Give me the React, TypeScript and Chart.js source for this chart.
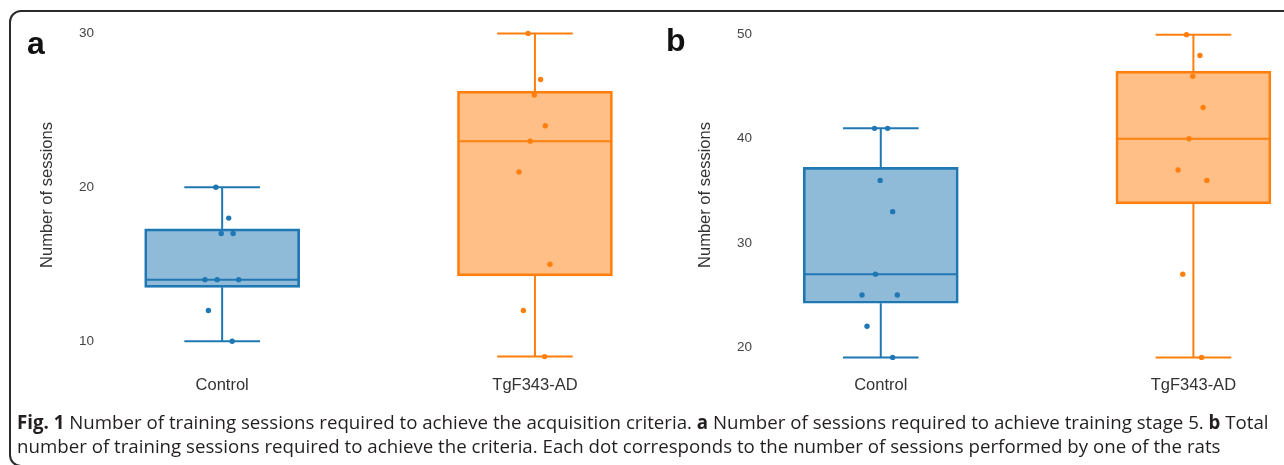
import React, { useEffect, useRef } from "react";
import { Chart, registerables } from "chart.js";

Chart.register(...registerables);

// ---------- data ----------
const categories = ["Control", "TgF343-AD"];

// Panel a: sessions to reach training stage 5
const aTicks = [10, 20, 30];
const aControl = [20, 18, 17, 17, 14, 14, 14, 12, 10];
const aControlJitter = [-0.02, 0.021, -0.003, 0.035, -0.055, -0.016, 0.053, -0.044, 0.032];
const aTg = [30, 27, 26, 24, 23, 21, 15, 12, 9];
const aTgJitter = [-0.022, 0.018, -0.002, 0.033, -0.015, -0.051, 0.048, -0.037, 0.031];
const aLow = [10, 9];
const aQ1 = [13.5, 14.25];
const aMedian = [14, 23];
const aQ3 = [17.3, 26.25];
const aHigh = [20, 30];

// Panel b: total sessions
const bTicks = [20, 30, 40, 50];
const bControl = [41, 41, 36, 33, 27, 25, 25, 22, 19];
const bControlJitter = [-0.02, 0.022, -0.002, 0.038, -0.017, -0.06, 0.053, -0.044, 0.038];
const bTg = [50, 48, 46, 43, 40, 37, 36, 27, 19];
const bTgJitter = [-0.022, 0.021, -0.002, 0.031, -0.014, -0.049, 0.043, -0.034, 0.026];
const bLow = [19, 19];
const bQ1 = [24.2, 33.75];
const bMedian = [27, 40];
const bQ3 = [37.25, 46.5];
const bHigh = [41, 50];

// ---------- styles ----------
const lineColors = ["#1f77b4", "#ff7f0e"];
const fillColors = ["rgba(31,119,180,0.5)", "rgba(255,127,14,0.5)"];
const BOX_HALF = 0.246;
const CAP_HALF = 0.121;
const FONT = "'Liberation Sans', Arial, Helvetica, sans-serif";

type PanelProps = {
  left: number;
  width: number;
  padLeft: number;
  yMin: number;
  yMax: number;
  xMin: number;
  xMax: number;
  ticks: number[];
  groups: number[][];
  jitters: number[][];
  low: number[];
  q1: number[];
  median: number[];
  q3: number[];
  high: number[];
};

function Panel(p: PanelProps) {
  const ref = useRef<HTMLCanvasElement | null>(null);
  useEffect(() => {
    if (!ref.current) return;
    const datasets: any[] = [];
    // points (top)
    p.groups.forEach((vals, g) => {
      datasets.push({
        type: "scatter",
        data: vals.map((v, i) => ({ x: g + p.jitters[g][i], y: v })),
        pointRadius: 2.7,
        pointBackgroundColor: lineColors[g],
        pointBorderWidth: 0,
        order: 0,
      });
    });
    // whiskers, caps, median
    const seg = (g: number, pts: { x: number; y: number }[]) => ({
      type: "line",
      data: pts,
      borderColor: lineColors[g],
      borderWidth: 2,
      pointRadius: 0,
      fill: false,
      tension: 0,
      order: 1,
    });
    categories.forEach((_, g) => {
      datasets.push(seg(g, [{ x: g, y: p.q3[g] }, { x: g, y: p.high[g] }]));
      datasets.push(seg(g, [{ x: g, y: p.q1[g] }, { x: g, y: p.low[g] }]));
      datasets.push(seg(g, [{ x: g - CAP_HALF, y: p.high[g] }, { x: g + CAP_HALF, y: p.high[g] }]));
      datasets.push(seg(g, [{ x: g - CAP_HALF, y: p.low[g] }, { x: g + CAP_HALF, y: p.low[g] }]));
      datasets.push(seg(g, [{ x: g - BOX_HALF, y: p.median[g] }, { x: g + BOX_HALF, y: p.median[g] }]));
    });
    // boxes (bottom)
    datasets.push({
      type: "bar",
      data: categories.map((_, g) => ({ x: g, y: [p.q1[g], p.q3[g]] })),
      backgroundColor: fillColors,
      borderColor: lineColors,
      borderWidth: 2,
      borderSkipped: false,
      barThickness: 155,
      order: 2,
    });

    const chart = new Chart(ref.current, {
      type: "scatter",
      data: { datasets },
      options: {
        animation: false,
        responsive: false,
        devicePixelRatio: 1,
        layout: { padding: { left: p.padLeft, top: 18, right: 0, bottom: 0 } },
        plugins: { legend: { display: false }, tooltip: { enabled: false } },
        scales: {
          x: {
            type: "linear",
            min: p.xMin,
            max: p.xMax,
            offset: false,
            grid: { display: false, drawTicks: false },
            border: { display: false },
            afterFit: (s: any) => {
              s.height = 38;
            },
            afterBuildTicks: (s: any) => {
              s.ticks = categories.map((_, i) => ({ value: i }));
            },
            ticks: {
              padding: 5,
              color: "#333",
              font: { family: FONT, size: 16.5, lineHeight: 1 },
              callback: (v: any) => categories[v],
            },
          },
          y: {
            min: p.yMin,
            max: p.yMax,
            grid: { display: false, drawTicks: false },
            border: { display: false },
            afterFit: (s: any) => {
              s.width = 66;
            },
            afterBuildTicks: (s: any) => {
              s.ticks = p.ticks.map((v) => ({ value: v }));
            },
            ticks: {
              padding: 6,
              color: "#444",
              font: { family: FONT, size: 13.5 },
            },
            title: {
              display: true,
              text: "Number of sessions",
              color: "#333",
              padding: { top: 4, bottom: 0 },
              font: { family: FONT, size: 16.5 },
            },
          },
        },
      } as any,
    });
    return () => chart.destroy();
  }, []);
  return (
    <canvas
      ref={ref}
      width={p.width}
      height={410}
      style={{ position: "absolute", left: p.left, top: 0, width: p.width, height: 410 }}
    />
  );
}

export default function App() {
  return (
    <div
      style={{
        position: "absolute",
        left: 0,
        top: 0,
        width: 1284,
        height: 465,
        overflow: "hidden",
        background: "#fff",
      }}
    >
      <div
        style={{
          position: "absolute",
          left: 9,
          top: 10,
          width: 1320,
          height: 453,
          border: "2px solid #2b2b2b",
          borderRadius: 12,
        }}
      />
      <Panel
        left={0}
        width={655}
        padLeft={34}
        yMin={8}
        yMax={31}
        xMin={-0.3905}
        xMax={1.371}
        ticks={aTicks}
        groups={[aControl, aTg]}
        jitters={[aControlJitter, aTgJitter]}
        low={aLow}
        q1={aQ1}
        median={aMedian}
        q3={aQ3}
        high={aHigh}
      />
      <Panel
        left={640}
        width={644}
        padLeft={52}
        yMin={17.6}
        yMax={51.6}
        xMin={-0.3927}
        xMax={1.277}
        ticks={bTicks}
        groups={[bControl, bTg]}
        jitters={[bControlJitter, bTgJitter]}
        low={bLow}
        q1={bQ1}
        median={bMedian}
        q3={bQ3}
        high={bHigh}
      />
      <div
        style={{
          position: "absolute",
          left: 27,
          top: 27,
          font: `bold 32px ${FONT}`,
          lineHeight: "32px",
          color: "#111",
        }}
      >
        a
      </div>
      <div
        style={{
          position: "absolute",
          left: 666,
          top: 24,
          font: `bold 32px ${FONT}`,
          lineHeight: "32px",
          color: "#111",
        }}
      >
        b
      </div>
      <div
        style={{
          position: "absolute",
          left: 17,
          top: 410,
          fontFamily: "'Open Sans', 'Noto Sans', sans-serif",
          fontSize: 18.7,
          lineHeight: "24px",
          color: "#231f20",
          whiteSpace: "nowrap",
        }}
      >
        <b>Fig. 1</b> Number of training sessions required to achieve the acquisition criteria. <b>a</b> Number of
        sessions required to achieve training stage 5. <b>b</b> Total
        <br />
        number of training sessions required to achieve the criteria. Each dot corresponds to the number of sessions
        performed by one of the rats
      </div>
    </div>
  );
}
